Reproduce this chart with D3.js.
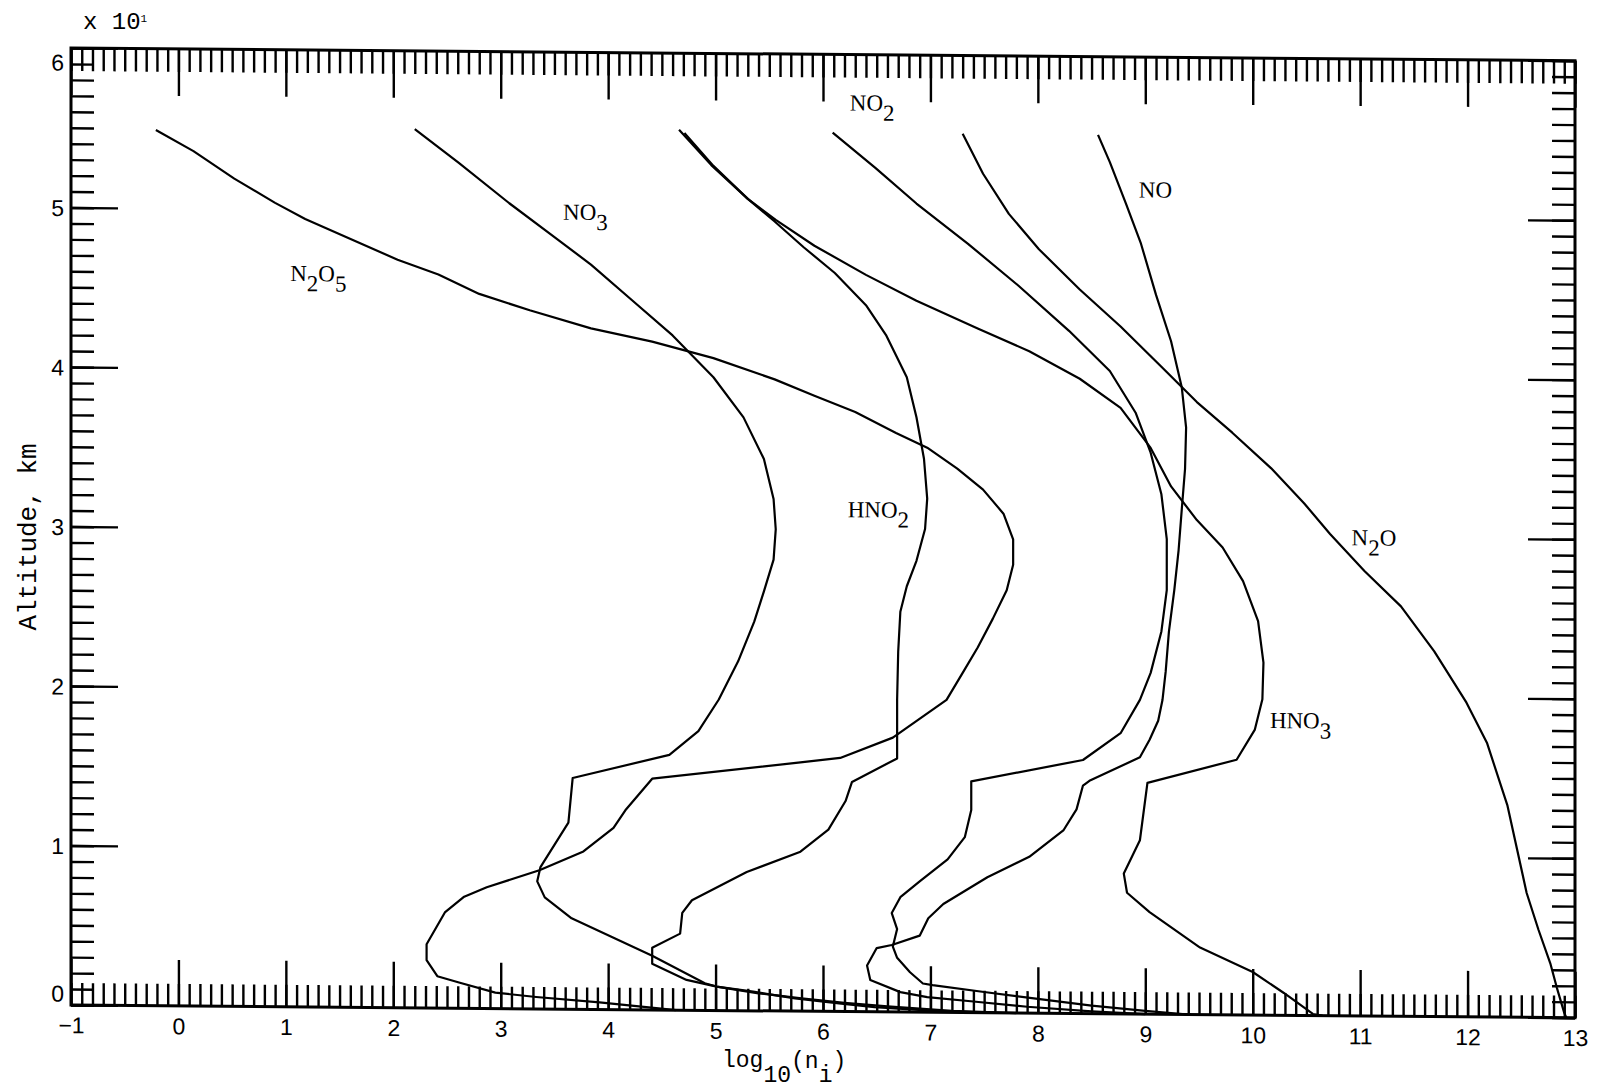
<!DOCTYPE html>
<html><head><meta charset="utf-8">
<script src="https://cdn.jsdelivr.net/npm/d3@7"></script>
<style>
body{margin:0;background:#fff}
svg{display:block}
.tick line{stroke:#000;stroke-width:2.4}
</style>
</head><body>
<svg id="chart" width="1597" height="1090"></svg>
<script>
// ---- data: [log10(n_i), altitude km] ----
const xTicks = [-1,0,1,2,3,4,5,6,7,8,9,10,11,12,13];
const yTicks = [0,10,20,30,40,50,60];          // km, labelled in units of 10 km
const yTickLabels = ["0","1","2","3","4","5","6"];

const N2O5 = [[-0.21,54.9],[0.14,53.6],[0.52,51.9],[0.90,50.4],[1.18,49.4],[1.56,48.3],[2.04,46.9],[2.42,46.0],[2.80,44.8],[3.27,43.8],[3.84,42.7],[4.41,41.9],[4.98,40.9],[5.55,39.6],[5.92,38.6],[6.30,37.6],[6.68,36.3],[6.97,35.4],[7.25,34.1],[7.49,32.8],[7.68,31.3],[7.77,29.7],[7.77,28.1],[7.71,26.5],[7.58,24.7],[7.44,22.9],[7.30,21.3],[7.15,19.6],[6.65,17.2],[6.16,15.9],[5.79,15.6],[4.41,14.5],[4.16,12.5],[4.05,11.4],[3.77,9.9],[3.36,8.7],[2.87,7.6],[2.66,7.0],[2.48,6.0],[2.31,4.0],[2.31,3.0],[2.41,2.0],[2.62,1.6],[2.95,1.0],[3.33,0.75],[3.92,0.45],[4.63,0.0]];

const NO3 = [[2.20,55.1],[2.61,53.0],[3.08,50.5],[3.46,48.6],[3.84,46.7],[4.22,44.5],[4.60,42.3],[4.98,39.7],[5.26,37.2],[5.45,34.6],[5.54,32.1],[5.56,30.2],[5.54,28.3],[5.45,26.3],[5.36,24.4],[5.21,21.9],[5.03,19.5],[4.84,17.5],[4.57,16.0],[3.67,14.5],[3.63,11.7],[3.37,8.9],[3.34,8.0],[3.41,7.0],[3.66,5.7],[4.02,4.6],[4.41,3.4],[4.90,1.7],[5.01,1.5],[5.35,1.2],[5.74,0.8],[6.17,0.5],[6.48,0.3],[7.0,0.1],[7.6,0]];

const HNO2 = [[4.66,55.2],[4.96,53.0],[5.30,50.9],[5.55,49.5],[5.82,47.9],[6.11,46.3],[6.40,44.3],[6.59,42.4],[6.78,39.8],[6.87,37.3],[6.94,34.7],[6.97,32.2],[6.95,30.3],[6.87,28.3],[6.78,26.7],[6.72,25.1],[6.70,22.6],[6.69,19.6],[6.69,15.9],[6.27,14.4],[6.21,13.2],[6.05,11.4],[5.79,10.0],[5.29,8.7],[4.78,6.9],[4.69,6.1],[4.67,4.8],[4.41,3.9],[4.41,2.9],[4.73,1.9],[5.01,1.5],[5.4,1.1],[5.8,0.8],[6.2,0.55],[6.6,0.35],[7.2,0.1],[7.8,0]];

const HNO3 = [[4.71,55.0],[4.98,52.95],[5.30,50.9],[5.56,49.6],[5.92,48.0],[6.40,46.2],[6.87,44.6],[7.44,42.9],[7.92,41.5],[8.39,39.8],[8.77,38.0],[9.05,35.5],[9.24,33.1],[9.48,31.0],[9.72,29.3],[9.91,27.2],[10.05,24.7],[10.10,22.1],[10.09,19.8],[10.02,17.9],[9.85,16.0],[9.02,14.5],[8.95,10.9],[8.80,8.8],[8.83,7.6],[9.04,6.4],[9.51,4.2],[10.0,2.7],[10.29,1.4],[10.56,0.1],[10.65,0]];

const NO2 = [[6.09,55.1],[6.49,52.9],[6.87,50.7],[7.35,48.2],[7.82,45.6],[8.29,42.8],[8.67,40.3],[8.91,37.7],[9.05,35.2],[9.15,32.6],[9.20,29.8],[9.20,26.6],[9.15,24.0],[9.05,21.4],[8.95,19.7],[8.77,17.6],[8.42,15.9],[7.38,14.5],[7.38,12.7],[7.32,11.0],[7.16,9.6],[6.90,8.2],[6.72,7.2],[6.64,6.2],[6.69,5.2],[6.65,4.1],[6.69,3.4],[6.81,2.5],[6.93,1.8],[7.02,1.7],[7.5,1.3],[8.0,0.9],[8.5,0.5],[9.0,0.2],[9.4,0]];

const NO = [[8.56,55.1],[8.67,53.4],[8.82,50.8],[8.96,48.3],[9.10,45.1],[9.24,42.2],[9.34,39.3],[9.38,36.8],[9.37,34.2],[9.34,31.7],[9.31,29.1],[9.27,26.6],[9.22,24.0],[9.19,21.5],[9.16,19.7],[9.12,18.4],[9.04,17.2],[8.95,16.1],[8.48,14.6],[8.42,14.3],[8.36,12.8],[8.24,11.5],[7.92,9.8],[7.53,8.5],[7.12,6.8],[6.98,5.9],[6.90,4.8],[6.64,4.2],[6.50,4.0],[6.41,2.9],[6.44,2.0],[6.72,1.25],[6.97,0.95],[7.4,0.7],[7.9,0.4],[8.5,0.15],[9.0,0]];

const N2O = [[7.30,55.1],[7.49,52.6],[7.73,50.1],[8.01,47.9],[8.39,45.4],[8.77,43.1],[9.15,40.6],[9.48,38.4],[9.81,36.5],[10.17,34.3],[10.48,32.1],[10.72,30.2],[11.04,27.9],[11.38,25.7],[11.69,22.9],[11.99,19.7],[12.18,17.2],[12.37,13.3],[12.55,7.8],[12.66,5.5],[12.77,3.4],[12.83,1.9],[12.9,0.3],[12.92,0]];

const seriesList = [N2O5, NO3, HNO2, HNO3, NO2, NO, N2O];

// curve labels: text parts (sub = subscript) and anchor in data units
const labelParts = [
  [["N",0],["2",1],["O",0],["5",1]],
  [["NO",0],["3",1]],
  [["NO",0],["2",1]],
  [["NO",0]],
  [["HNO",0],["2",1]],
  [["N",0],["2",1],["O",0]],
  [["HNO",0],["3",1]]
];
const labelX = [1.04, 3.58, 6.25, 8.94, 6.23, 10.92, 10.16];
const labelY = [45.5, 49.5, 56.5, 51.2, 31.0, 29.5, 18.0];

// ---- drawing ----
const W = 1504, H = 957;
const x = d3.scaleLinear().domain([-1, 13]).range([0, W]);
const y = d3.scaleLinear().domain([0, 60]).range([H, 0]);

const svg = d3.select("#chart");
const g = svg.append("g").attr("transform", "translate(71,48) skewY(0.487)");

const minorX = d3.range(-10, 131).map(i => i / 10);
const minorY = d3.range(0, 61);
const tickFont = "'Liberation Sans Narrow','Liberation Sans',Arial,sans-serif";

function clean(sel){ sel.select(".domain").remove(); }

// bottom
g.append("g").attr("transform", `translate(0,${H})`)
  .call(d3.axisBottom(x).tickValues(minorX).tickSize(-22).tickFormat("")).call(clean);
g.append("g").attr("transform", `translate(0,${H})`)
  .call(d3.axisBottom(x).tickValues(xTicks).tickSize(-46).tickFormat(d3.format("d")))
  .call(clean)
  .call(s => s.selectAll("text").attr("y", 20).attr("dy", "0.36em")
     .attr("fill", "#000").style("font-family", tickFont).style("font-size", "23px"));
// top
g.append("g")
  .call(d3.axisTop(x).tickValues(minorX).tickSize(-23).tickFormat("")).call(clean);
g.append("g")
  .call(d3.axisTop(x).tickValues(xTicks).tickSize(-47).tickFormat("")).call(clean);
// left
g.append("g")
  .call(d3.axisLeft(y).tickValues(minorY).tickSize(-23).tickFormat("")).call(clean);
g.append("g")
  .call(d3.axisLeft(y).tickValues(yTicks).tickSize(-47).tickFormat((d, i) => yTickLabels[i]))
  .call(clean)
  .call(s => s.selectAll("text").attr("x", -7).attr("dy", "0.36em")
     .attr("fill", "#000").style("font-family", tickFont).style("font-size", "23px")
     .attr("y", d => d === 60 ? 14 : (d === 0 ? -12 : 0)));
// right
g.append("g").attr("transform", `translate(${W},0)`)
  .call(d3.axisRight(y).tickValues(minorY).tickSize(-23).tickFormat("")).call(clean);
g.append("g").attr("transform", `translate(${W},0)`)
  .call(d3.axisRight(y).tickValues(yTicks).tickSize(-47).tickFormat("")).call(clean);

// frame
g.append("rect").attr("width", W).attr("height", H)
  .attr("fill", "none").attr("stroke", "#000").attr("stroke-width", 3);

// curves
const line = d3.line().x(d => x(d[0])).y(d => y(d[1]));
g.selectAll("path.series").data(seriesList).join("path")
  .attr("class", "series").attr("d", line)
  .attr("fill", "none").attr("stroke", "#000").attr("stroke-width", 2.2)
  .attr("stroke-linejoin", "round");

// curve labels
const lab = g.selectAll("text.lab").data(labelParts).join("text")
  .attr("class", "lab")
  .attr("x", (d, i) => x(labelX[i])).attr("y", (d, i) => y(labelY[i]))
  .style("font-family", "'Liberation Serif','Times New Roman',serif")
  .style("font-size", "23px").attr("fill", "#000");
lab.each(function(parts){
  const t = d3.select(this);
  let prev = 0;
  parts.forEach(([s, sub]) => {
    t.append("tspan").attr("dy", (sub - prev) * 10).text(s);
    prev = sub;
  });
});

// axis titles
svg.append("text").attr("transform", "translate(27,537) rotate(-90)")
  .attr("text-anchor", "middle").attr("dy", "0.35em")
  .style("font-family", "'Liberation Mono','Courier New',monospace").style("font-size", "26px")
  .text("Altitude, km");

const xt = svg.append("text").attr("x", 722).attr("y", 1067)
  .style("font-family", "'Liberation Mono','Courier New',monospace").style("font-size", "23px");
xt.append("tspan").text("log");
xt.append("tspan").attr("dy", 15).text("10");
xt.append("tspan").attr("dy", -14).text("(n");
xt.append("tspan").attr("dy", 14).text("i");
xt.append("tspan").attr("dy", -14).text(")");

// multiplier
const mt = svg.append("text").attr("x", 83).attr("y", 29)
  .style("font-family", "'Liberation Mono','Courier New',monospace").style("font-size", "24px");
mt.append("tspan").text("x 10");
mt.append("tspan").attr("dy", -7).style("font-size", "11px").text("1");
</script>
</body></html>
